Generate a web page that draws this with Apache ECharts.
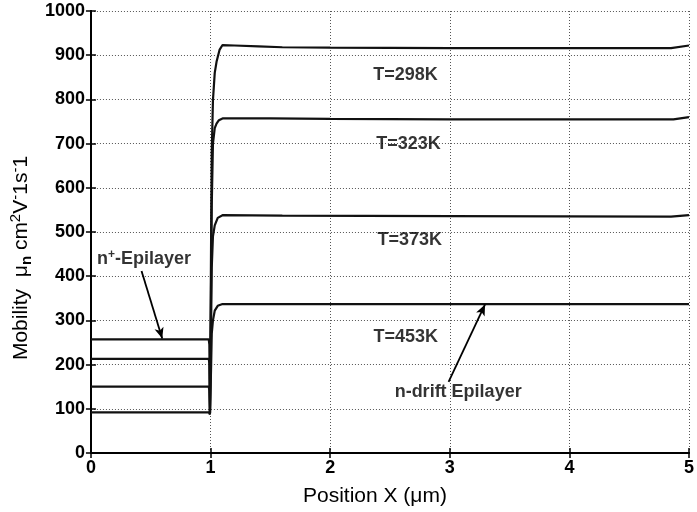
<!DOCTYPE html>
<html>
<head>
<meta charset="utf-8">
<script src="https://cdn.jsdelivr.net/npm/echarts@6/dist/echarts.min.js"></script>
<style>
  html, body { margin: 0; padding: 0; background: #fff; }
  #chart { width: 697px; height: 512px; }
</style>
</head>
<body>
<div id="chart"></div>
<script>
// Electron mobility along the device (n+ epilayer, then n-drift epilayer)
const seriesNames = ['T=298K', 'T=323K', 'T=373K', 'T=453K'];

const posT298 = [0, 0.985, 0.99, 0.995, 1.0, 1.005, 1.01, 1.02, 1.035, 1.05, 1.075, 1.1, 1.2, 1.4, 1.6, 2, 3, 4, 4.85, 5];
const mobT298 = [257, 257, 245, 90, 88, 500, 680, 798, 860, 885, 912, 923, 922, 920, 918, 917, 916, 916, 916, 922];

const posT323 = [0, 0.985, 0.99, 0.995, 1.0, 1.005, 1.01, 1.02, 1.035, 1.05, 1.07, 1.1, 1.5, 2, 3, 4, 4.87, 5];
const mobT323 = [213, 213, 203, 90, 88, 400, 560, 700, 735, 745, 753, 757, 757, 756, 755, 755, 755, 760];

const posT373 = [0, 0.985, 0.99, 0.995, 1.0, 1.005, 1.01, 1.02, 1.035, 1.06, 1.1, 1.6, 3, 4.85, 5];
const mobT373 = [150, 150, 142, 90, 88, 300, 420, 490, 515, 532, 538, 537, 536, 535, 538];

const posT453 = [0, 0.985, 0.99, 0.995, 1.0, 1.005, 1.01, 1.02, 1.035, 1.06, 1.1, 5];
const mobT453 = [92, 92, 89, 87, 86, 200, 270, 300, 322, 333, 337, 337];

// Text annotations placed in data coordinates
const labelText = ['T=298K', 'T=323K', 'T=373K', 'T=453K', 'n-drift Epilayer', '{b|n}{sup|+}{b|-Epilayer}'];
const labelX = [2.63, 2.655, 2.665, 2.632, 3.07, 0.443];
const labelY = [856, 699, 481, 262, 137, 438];

// Arrows: [startX, startY, endX, endY]
const arrowN = [0.423, 412, 0.596, 259];
const arrowDrift = [2.99, 161, 3.295, 336];

const xTicks = { min: 0, max: 5, interval: 1 };
const yTicks = { min: 0, max: 1000, interval: 100 };

const FONT = '"Liberation Sans", Arial, sans-serif';
const INK = '#000';

function zipXY(xs, ys) { return xs.map((x, i) => [x, ys[i]]); }

const curves = [
  zipXY(posT298, mobT298),
  zipXY(posT323, mobT323),
  zipXY(posT373, mobT373),
  zipXY(posT453, mobT453)
];

const chart = echarts.init(document.getElementById('chart'), null, { renderer: 'canvas' });

const lineSeries = curves.map((d, i) => ({
  name: seriesNames[i],
  type: 'line',
  data: d,
  showSymbol: false,
  smooth: false,
  lineStyle: { color: '#111', width: 2.2 },
  z: 3
}));

const labelSeries = {
  type: 'scatter',
  symbolSize: 0,
  silent: true,
  data: labelText.map((t, i) => [labelX[i], labelY[i], t]),
  label: {
    show: true,
    position: 'inside',
    formatter: p => p.value[2],
    color: INK,
    fontFamily: FONT,
    fontWeight: 'bold',
    fontSize: 18,
    rich: {
      b: { fontFamily: FONT, fontWeight: 'bold', fontSize: 18, color: INK },
      sup: { fontFamily: FONT, fontWeight: 'bold', fontSize: 12, color: INK, verticalAlign: 'top', padding: [0, 0, 10, 0] }
    }
  },
  z: 5
};

const arrowSeries = {
  type: 'line',
  data: [],
  silent: true,
  markLine: {
    silent: true,
    symbol: ['none', 'arrow'],
    symbolSize: [7, 11],
    label: { show: false },
    lineStyle: { color: INK, width: 1.8, type: 'solid' },
    data: [
      [{ coord: [arrowN[0], arrowN[1]] }, { coord: [arrowN[2], arrowN[3]] }],
      [{ coord: [arrowDrift[0], arrowDrift[1]] }, { coord: [arrowDrift[2], arrowDrift[3]] }]
    ]
  }
};

const gridLine = { show: true, lineStyle: { color: '#555', type: [1, 2], width: 1 } };
const tickLabel = { fontFamily: FONT, fontWeight: 'bold', fontSize: 18, color: INK, margin: 6, formatter: v => String(v) };

chart.setOption({
  animation: false,
  backgroundColor: '#fff',
  grid: { left: 88, right: 4, top: 11, bottom: 55, containLabel: false },
  xAxis: [{
    type: 'value',
    min: xTicks.min, max: xTicks.max, interval: xTicks.interval,
    name: 'Position X (\u03bcm)',
    nameLocation: 'middle',
    nameGap: 33,
    nameTextStyle: { fontFamily: FONT, fontSize: 21, color: INK, padding: [0, 30, 0, 0] },
    axisLine: { show: true, onZero: false, lineStyle: { color: INK, width: 2 } },
    axisTick: { show: true, inside: true, length: 5, lineStyle: { color: INK, width: 1.5 } },
    axisLabel: tickLabel,
    splitLine: gridLine
  }, {
    type: 'value', position: 'top',
    min: xTicks.min, max: xTicks.max, interval: xTicks.interval,
    axisLine: { show: true, lineStyle: { color: INK, width: 2 } },
    axisTick: { show: true, inside: true, length: 5, lineStyle: { color: INK, width: 1.5 } },
    axisLabel: { show: false },
    splitLine: { show: false }
  }],
  yAxis: [{
    type: 'value',
    min: yTicks.min, max: yTicks.max, interval: yTicks.interval,
    name: '{t|Mobility  \u03bc}{sub|n}{t| cm}{sup|2}{t|V}{sup|-}{t|1s}{sup|-}{t|1}',
    nameLocation: 'middle',
    nameGap: 46,
    nameRotate: 90,
    nameTextStyle: {
      fontFamily: FONT, fontSize: 21, color: INK,
      padding: [0, 52, 0, 0],
      rich: {
        t: { fontFamily: FONT, fontSize: 21, color: INK },
        sub: { fontFamily: FONT, fontSize: 15, fontWeight: 'bold', color: INK, verticalAlign: 'bottom', padding: [9, 0, 0, 0] },
        sup: { fontFamily: FONT, fontSize: 15, color: INK, verticalAlign: 'top', padding: [0, 0, 11, 0] }
      }
    },
    axisLine: { show: true, onZero: false, lineStyle: { color: INK, width: 2 } },
    axisTick: { show: true, inside: true, length: 5, lineStyle: { color: INK, width: 1.5 } },
    axisLabel: tickLabel,
    splitLine: gridLine
  }, {
    type: 'value', position: 'right',
    min: yTicks.min, max: yTicks.max, interval: yTicks.interval,
    axisLine: { show: true, lineStyle: { color: INK, width: 2 } },
    axisTick: { show: true, inside: true, length: 5, lineStyle: { color: INK, width: 1.5 } },
    axisLabel: { show: false },
    splitLine: { show: false }
  }],
  series: [...lineSeries, labelSeries, arrowSeries]
});
</script>
</body>
</html>
